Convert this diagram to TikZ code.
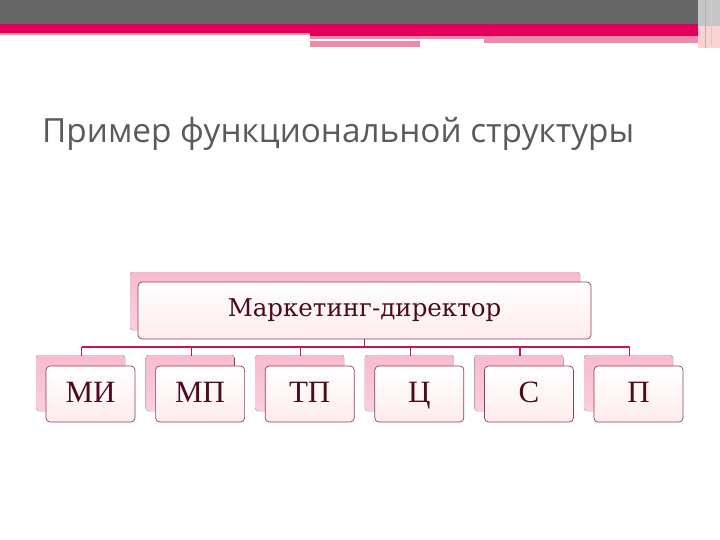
\documentclass[tikz,border=0pt]{standalone}
\usepackage{fontspec}
\setmainfont{Liberation Serif}
\newfontfamily\titlefont{Open Sans}
\newfontfamily\dirfont{DejaVu Serif}
\definecolor{bargray}{HTML}{666666}
\definecolor{barpink}{HTML}{E4005A}
\definecolor{lightpink}{HTML}{EE8AAA}
\definecolor{boxline}{HTML}{8E3C5E}
\definecolor{boxtext}{HTML}{4A0A20}
\definecolor{shadowpink}{HTML}{F5AFC6}
\definecolor{linkred}{HTML}{C8144E}
\definecolor{titlegray}{HTML}{5A5A5A}
\tikzset{
  shadowbox/.style={rounded corners=3pt, top color=shadowpink!85, bottom color=shadowpink!60!white, draw=none},
  mainbox/.style={draw=boxline, line width=0.7pt, rounded corners=4pt, top color=white, bottom color=pink!30!white, inner sep=0pt, font=\fontsize{31}{31}\selectfont, text=boxtext, text height=21pt, text depth=5pt},
  link/.style={draw=linkred, line width=1.6pt}
}
\begin{document}
\begin{tikzpicture}[x=1pt,y=-1pt]
\useasboundingbox (0,0) rectangle (720,540);
% top band
\fill[bargray] (0,0) rectangle (698,24);
\fill[barpink] (0,24) rectangle (698,33);
\fill[lightpink] (0,33) rectangle (310,35);
\fill[barpink] (310,33) rectangle (698,36);
\fill[lightpink] (310,36) rectangle (698,39);
\fill[white] (313,39) rectangle (484,41);
\fill[lightpink] (484,39) rectangle (698,43);
\fill[lightpink] (310,41) rectangle (420,47);
\fill[gray!45] (698,0) rectangle (720,26);
\fill[pink!70] (698,26) rectangle (720,48);
\draw[gray!60, line width=1pt] (705,0) -- (705,48);
\draw[gray!40, line width=0.8pt] (711,0) -- (711,46);
% title
\node[anchor=base west, inner sep=0pt, text=titlegray, font=\titlefont\fontsize{33.3}{34}\selectfont] (title) at (42,143) {Пример функциональной структуры};
% director
\fill[shadowbox] (130,272) rectangle (580,330);
\node[mainbox, font=\dirfont\fontsize{24.5}{25}\selectfont, text height=18pt, text depth=6pt, minimum width=453pt, minimum height=57pt] (dir) at (364.5,310.5) {Маркетинг-директор};
% children
\foreach \i/\t in {0/МИ,1/МП,2/ТП,3/Ц,4/С,5/П}{
  \pgfmathsetmacro{\cx}{90.5+109.6*\i}
  \fill[shadowbox] (\cx-54.5,355) rectangle (\cx+34.5,411);
  \node[mainbox, minimum width=89pt, minimum height=56pt] (c\i) at (\cx,394) {\t};
  \coordinate (d\i) at (\cx-9,347);
}
\coordinate (j) at (dir.south |- d0);
\draw[link] (d0) -- (d5);
\draw[link, line width=1pt] (dir.south) -- (j);
\foreach \i in {0,...,5}{
  \draw[link, line width=1.2pt] (d\i) -- ++(0,9);
}
\end{tikzpicture}
\end{document}
